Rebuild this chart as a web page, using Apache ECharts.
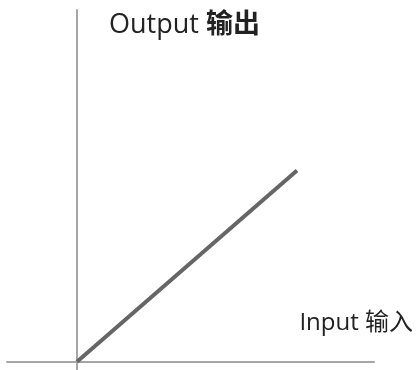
<!DOCTYPE html>
<html>
<head>
<meta charset="utf-8">
<script src="https://cdn.jsdelivr.net/npm/echarts@6/dist/echarts.min.js"></script>
<style>
  html, body { margin: 0; padding: 0; background: #fff; }
  #chart { width: 417px; height: 370px; }
</style>
</head>
<body>
<div id="chart"></div>
<script>
// line data: input -> output
var inputValues = [0, 10];
var outputValues = [0, 8.7];

var xLabel = "Input 输入";
var yLabel = "Output";
var yLabelCn = "输出";

var chart = echarts.init(document.getElementById("chart"));

var points = [];
for (var i = 0; i < inputValues.length; i++) {
    points.push([inputValues[i], outputValues[i]]);
}

var axisColor = "#a6a6a6";
var font = "'Open Sans', 'Noto Sans CJK SC', sans-serif";

var option = {
    animation: false,
    grid: {
        left: 7,
        right: 43,
        top: 10,
        bottom: 0
    },
    xAxis: {
        type: "value",
        min: -3.18,
        max: 13.5,
        axisLine: { onZero: true, lineStyle: { color: axisColor, width: 2 } },
        axisTick: { show: false },
        axisLabel: { show: false },
        splitLine: { show: false }
    },
    yAxis: {
        type: "value",
        min: -0.37,
        max: 16,
        axisLine: { onZero: true, lineStyle: { color: axisColor, width: 2 } },
        axisTick: { show: false },
        axisLabel: { show: false },
        splitLine: { show: false }
    },
    series: [
        {
            type: "line",
            data: points,
            symbol: "none",
            lineStyle: { color: "#666666", width: 4 }
        }
    ],
    graphic: [
        {
            type: "text",
            left: 109,
            top: 12,
            style: {
                text: "{a|" + yLabel + " }{b|" + yLabelCn + "}",
                rich: {
                    a: { fontSize: 27, fontFamily: font, fill: "#222" },
                    b: { fontSize: 27, fontFamily: font, fontWeight: "bold", fill: "#222" }
                }
            }
        },
        {
            type: "text",
            right: 4,
            top: 311,
            style: {
                text: xLabel,
                fontSize: 24,
                fontFamily: font,
                fill: "#222"
            }
        }
    ]
};

chart.setOption(option);
</script>
</body>
</html>
